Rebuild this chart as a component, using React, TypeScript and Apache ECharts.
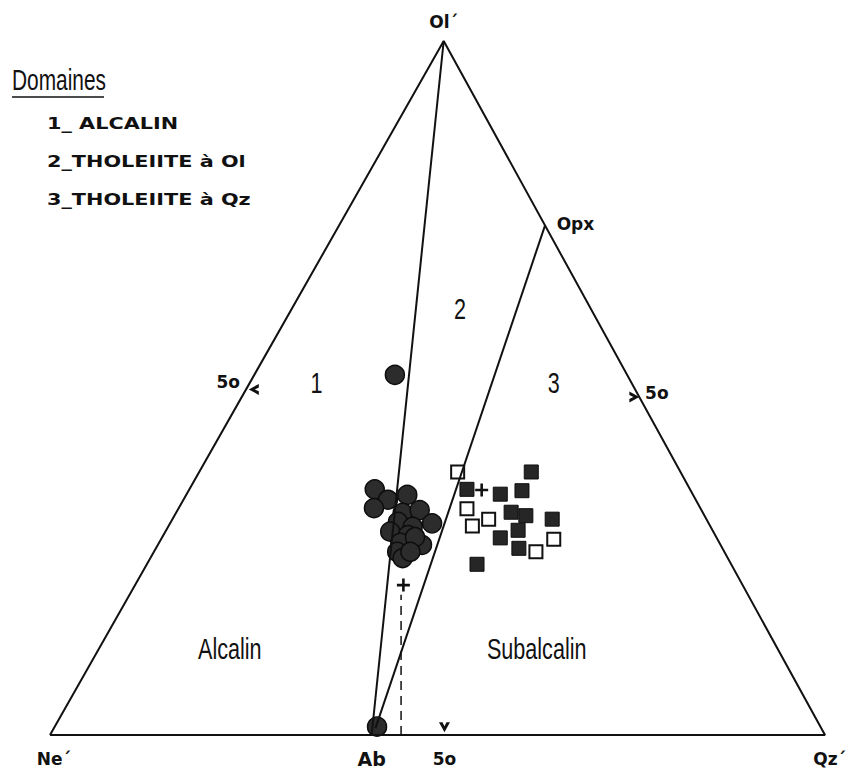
import React, { useEffect, useRef } from "react";
import * as echarts from "echarts";

// Cartesian frame of the ternary diagram: base Ne'(0) -> Qz'(100), height 0 -> Ol' (100)
const triangleEdges = [[0, 0], [50.8, 100], [100, 0], [0, 0]];
const olAbLine = [[50.8, 100], [41.5, 0]];
const opxAbLine = [[63.9, 73.5], [42.0, 1.0]];
const dashedLine = [[45.3, 0], [45.3, 20.2]];

// Samples
const circles = [
  [41.9, 35.4], [43.6, 33.9], [46.1, 34.6], [41.8, 32.7], [45.5, 32.0], [47.7, 32.4],
  [49.3, 30.5], [44.9, 30.7], [43.9, 29.3], [46.8, 30.0], [46.2, 28.8], [45.2, 27.7],
  [48.0, 27.4], [47.1, 28.5], [44.8, 26.4], [45.5, 25.5], [46.5, 26.4], [44.5, 51.9],
  [42.2, 1.2],
];
const crosses = [[55.7, 35.3], [45.6, 21.6]];
const openSquares = [[52.6, 37.9], [53.8, 32.6], [54.5, 30.1], [56.6, 31.1], [65.0, 28.2], [62.7, 26.4]];
const filledSquares = [
  [62.1, 37.9], [53.8, 35.4], [58.1, 34.7], [60.9, 35.2], [59.5, 32.1], [61.4, 31.6],
  [64.8, 31.1], [60.4, 29.5], [58.1, 28.4], [60.5, 26.9], [55.1, 24.6],
];

// Annotations
const vertexNames = ["Ol´", "Opx", "Ne´", "Ab", "Qz´"];
const vertexLabelPos = [[50.8, 102.7], [67.8, 73.7], [0.5, -3.5], [41.5, -3.5], [100.6, -3.5]];
const vertexLabelSize = [17, 17, 17, 19, 17];
const tickLabels = ["5o", "5o", "5o"];
const tickLabelPos = [[50.9, -3.5], [23.0, 50.9], [78.3, 49.3]];
const tickMarkPos = [[50.9, 1.1], [26.3, 49.8], [75.4, 48.7]];
const tickMarkRotate = [0, -90, 90];
const regionNames = ["1", "2", "3", "Alcalin", "Subalcalin"];
const regionLabelPos = [[34.4, 50.7], [52.9, 61.4], [65.0, 50.7], [23.2, 12.4], [62.8, 12.4]];
const legendTitle = "Domaines";
const legendItems = ["1_ ALCALIN", "2_THOLEIITE à Ol", "3_THOLEIITE à Qz"];

const sansFont = "'Liberation Sans', Arial, sans-serif";
const boldFont = "'DejaVu Sans', 'Liberation Sans', sans-serif";
const INK = "#111";

function textSeries(names: string[], pos: number[][], sizes: number[] | number, style: any) {
  return {
    type: "scatter",
    clip: false,
    symbolSize: 1,
    itemStyle: { color: "rgba(0,0,0,0)", opacity: 1 },
    silent: true,
    z: 5,
    data: names.map((n, i) => ({
      name: n,
      value: pos[i],
      label: { fontSize: Array.isArray(sizes) ? sizes[i] : sizes },
    })),
    label: {
      show: true,
      position: "inside",
      formatter: (p: any) => p.name,
      color: INK,
      ...style,
    },
  };
}

export default function App() {
  const ref = useRef<HTMLDivElement>(null);
  useEffect(() => {
    document.body.style.margin = "0";
    const chart = echarts.init(ref.current!, null, { renderer: "svg" });
    const lineBase = {
      type: "line",
      symbol: "none",
      clip: false,
      silent: true,
      lineStyle: { color: INK, width: 2 },
    };
    chart.setOption({
      animation: false,
      backgroundColor: "#fff",
      grid: { left: 50, right: 23, top: 41, bottom: 39 },
      xAxis: { type: "value", min: 0, max: 100, show: false },
      yAxis: { type: "value", min: 0, max: 100, show: false },
      series: [
        { ...lineBase, data: triangleEdges },
        { ...lineBase, data: olAbLine },
        { ...lineBase, data: opxAbLine },
        { ...lineBase, data: dashedLine, lineStyle: { color: INK, width: 1.5, type: [9, 6] } },
        {
          type: "scatter",
          clip: false,
          symbol: "circle",
          symbolSize: 19,
          itemStyle: { color: "#2c2c2c", borderColor: "#0d0d0d", borderWidth: 1.5, opacity: 1 },
          data: circles,
        },
        {
          type: "scatter",
          clip: false,
          symbol: "rect",
          symbolSize: 13,
          itemStyle: { color: "#fff", borderColor: INK, borderWidth: 2, opacity: 1 },
          data: openSquares,
        },
        {
          type: "scatter",
          clip: false,
          symbol: "rect",
          symbolSize: 14,
          itemStyle: { color: "#262626", borderColor: "#0d0d0d", borderWidth: 1, opacity: 1 },
          data: filledSquares,
        },
        {
          type: "scatter",
          clip: false,
          symbol: "path://M0,4 L10,4 L10,6 L0,6 Z M4,0 L6,0 L6,10 L4,10 Z",
          symbolSize: 13,
          itemStyle: { color: INK, opacity: 1 },
          data: crosses,
        },
        {
          type: "scatter",
          clip: false,
          symbol: "path://M0,0 L5,9 L10,0 L6.8,0 L5,3.6 L3.2,0 Z",
          symbolSize: [11, 10],
          itemStyle: { color: INK, opacity: 1 },
          data: tickMarkPos.map((p, i) => ({ value: p, symbolRotate: tickMarkRotate[i] })),
        },
        textSeries(vertexNames, vertexLabelPos, vertexLabelSize, { fontWeight: "bold", fontFamily: boldFont }),
        textSeries(tickLabels, tickLabelPos, 17, { fontWeight: "bold", fontFamily: boldFont }),
      ],
    });

    // condensed region labels placed through the chart's own coordinate system
    const regionGraphics = regionNames.map((t, i) => {
      const [px, py] = chart.convertToPixel({ gridIndex: 0 }, regionLabelPos[i]) as number[];
      return {
        type: "text",
        x: px,
        y: py,
        scaleX: 0.72,
        style: {
          text: t,
          font: `30px ${sansFont}`,
          fill: INK,
          align: "center",
          verticalAlign: "middle",
        },
        silent: true,
      };
    });

    chart.setOption({
      graphic: [
        {
          type: "text",
          x: 12,
          y: 80,
          scaleX: 0.72,
          style: { text: legendTitle, font: `29px ${sansFont}`, fill: INK, align: "left", verticalAlign: "middle" },
        },
        {
          type: "line",
          shape: { x1: 12, y1: 97, x2: 104, y2: 97 },
          style: { stroke: INK, lineWidth: 1.5 },
        },
        ...legendItems.map((t, i) => ({
          type: "text",
          x: 47,
          y: 123 + i * 38,
          scaleX: 1.3,
          style: { text: t, font: `bold 16px ${boldFont}`, fill: INK, align: "left", verticalAlign: "middle" },
        })),
        ...regionGraphics,
      ],
    });
    return () => chart.dispose();
  }, []);
  return <div ref={ref} style={{ width: 848, height: 774 }} />;
}
